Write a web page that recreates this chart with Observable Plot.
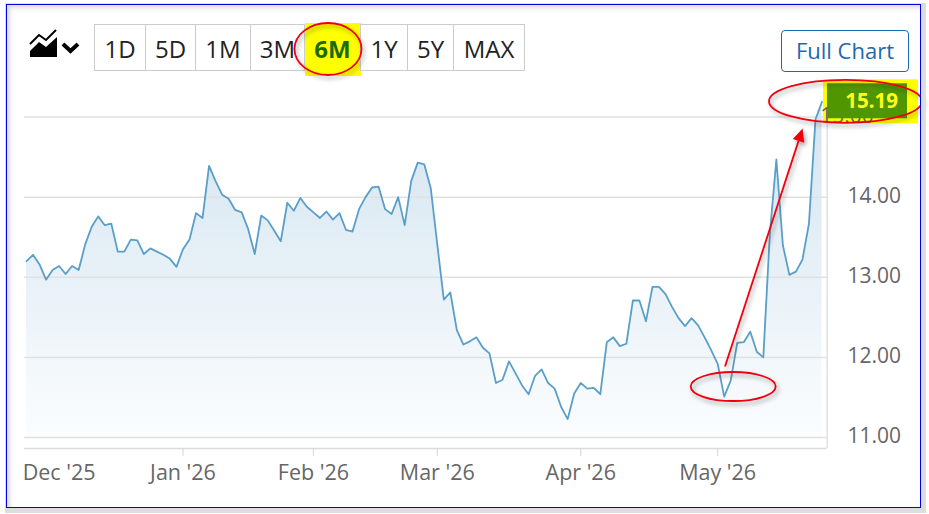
<!DOCTYPE html>
<html><head><meta charset="utf-8">
<script src="https://cdn.jsdelivr.net/npm/d3@7"></script>
<script src="https://cdn.jsdelivr.net/npm/@observablehq/plot@0.6"></script>
<style>
html,body{margin:0;padding:0;background:#fff;}
#wrap{position:relative;width:929px;height:514px;overflow:hidden;font-family:"Open Sans",sans-serif;}
#frame{position:absolute;left:6px;top:4px;width:913px;height:502px;border:1.5px solid #0000e6;box-shadow:inset 5px 5px 5px -2px #ddd,2px 2px 0 3px #ddd;pointer-events:none;}
#chart{position:absolute;left:0;top:0;}
.btn{position:absolute;top:24px;height:47px;line-height:47px;text-align:center;font-size:24px;color:#222;border:1px solid #ccc;box-sizing:border-box;margin-left:-1px;}
#full{position:absolute;left:781px;top:30px;width:128px;height:42px;line-height:39px;text-align:center;font-size:22px;color:#1a6aae;border:1.5px solid #1a6aae;border-radius:4px;box-sizing:border-box;}
#hl{position:absolute;left:305px;top:23px;width:56px;height:53px;background:#ffff00;}
#over{position:absolute;left:0;top:0;}
</style></head><body>
<div id="wrap">
<div id="chart"></div>
<div id="frame"></div>
<div id="btns"></div>
<div id="full">Full Chart</div>
<svg id="over" width="929" height="514">
<defs><filter id="sh" x="-20%" y="-20%" width="150%" height="150%"><feDropShadow dx="2" dy="3" stdDeviation="2" flood-color="#000" flood-opacity="0.35"/></filter></defs>
<g fill="#000"><path d="M30 51 L39 42 L46 47 L57 37 L57 57 L30 57 Z"/><path d="M30 44 L39 35 L46 40 L56 30" fill="none" stroke="#000" stroke-width="2"/>
<path d="M63 44 L70.500 51 L78 44" fill="none" stroke="#000" stroke-width="4"/></g>
<ellipse cx="328" cy="49" rx="33.500" ry="26" fill="none" stroke="#f00010" stroke-width="1.800" filter="url(#sh)"/>
</svg>
</div>
<script>
const prices = [13.20,13.28,13.16,12.97,13.09,13.14,13.04,13.14,13.09,13.41,13.63,13.76,13.65,13.67,13.32,13.32,13.47,13.46,13.29,13.36,13.32,13.28,13.23,13.13,13.35,13.47,13.80,13.74,14.39,14.20,14.03,13.98,13.84,13.81,13.60,13.29,13.77,13.71,13.58,13.45,13.93,13.83,13.99,13.88,13.81,13.74,13.82,13.72,13.80,13.59,13.57,13.85,14.00,14.12,14.13,13.85,13.79,14.00,13.65,14.20,14.43,14.41,14.11,13.41,12.72,12.81,12.34,12.16,12.20,12.25,12.12,12.05,11.68,11.72,11.95,11.80,11.65,11.54,11.77,11.85,11.68,11.61,11.38,11.23,11.55,11.68,11.61,11.62,11.54,12.19,12.25,12.14,12.17,12.71,12.71,12.45,12.88,12.88,12.79,12.63,12.49,12.39,12.49,12.40,12.25,12.09,11.92,11.51,11.71,12.18,12.19,12.32,12.07,12.00,13.54,14.47,13.40,13.03,13.07,13.22,13.67,14.97,15.19];
const tickIndex = [24,44,63,85,106];
const tickLabels = ["Jan '26","Feb '26","Mar '26","Apr '26","May '26"];
const firstLabelIndex = 5, firstLabel = "Dec '25";
const yTicks = [11,12,13,14,15];
const ranges = ["1D","5D","1M","3M","6M","1Y","5Y","MAX"];
const rangeEdges = [95,146,196,251,305,361,408,454,525];
const data = prices.map((v,i)=>({i,v}));
const last = data[data.length-1];
const base = 10.98, axisY = 10.863, axisX = 122.8;
const gridColor = "#e1e1e1", textColor = "#666", red = "#f00010";

const hl = document.createElement("div"); hl.id="hl"; document.getElementById("btns").append(hl);
ranges.forEach((r,k)=>{
  const b=document.createElement("div"); b.className="btn"; b.textContent=r;
  b.style.left=rangeEdges[k]+"px"; b.style.width=(rangeEdges[k+1]-rangeEdges[k]+1)+"px";
  if(r==="6M"){b.style.fontWeight="700";b.style.color="#1a6a00";b.style.borderColor="transparent";}
  document.getElementById("btns").append(b);
});

const gradient = () => {
  const s = d3.create("svg:defs");
  const g = s.append("linearGradient").attr("id","areaFill").attr("x1",0).attr("x2",0).attr("y1",0).attr("y2",1);
  g.append("stop").attr("offset","0%").attr("stop-color","#d3e4f0");
  g.append("stop").attr("offset","100%").attr("stop-color","#fbfdfe");
  const f = s.append("filter").attr("id","shade").attr("x","-20%").attr("y","-30%").attr("width","150%").attr("height","170%");
  f.append("feDropShadow").attr("dx",2).attr("dy",3).attr("stdDeviation",2).attr("flood-color","#000").attr("flood-opacity",.35);
  return s.node();
};
const valueTag = (index,{x,y}) => {
  const g = d3.create("svg:g");
  const cy = y(last.v);
  g.append("rect").attr("x",823).attr("y",cy-22).attr("width",95).attr("height",44).attr("fill","#ffff00");
  g.append("text").attr("x",847).attr("y",y(15)).attr("dy","0.32em").attr("fill",textColor).attr("font-size",21).text("15.00");
  g.append("rect").attr("x",827).attr("y",cy-18).attr("width",80).attr("height",35).attr("fill","#4f9600");
  g.append("text").attr("x",898).attr("y",cy).attr("dy","0.35em").attr("text-anchor","end").attr("fill","#ffff1a").attr("font-weight",700).attr("font-size",20.5).text(last.v.toFixed(2));
  return g.node();
};
const annotations = (index,{x,y}) => {
  const g = d3.create("svg:g");
  const ell=(cx,cy,rx,ry)=>g.append("ellipse").attr("cx",cx).attr("cy",cy).attr("rx",rx).attr("ry",ry).attr("fill","none").attr("stroke",red).attr("stroke-width",1.8).attr("filter","url(#shade)");
  ell(x(last.i)+24,y(last.v),76.5,21.5);
  ell(x(108)+3,y(11.63),42.5,14.5);
  const x1=x(107.2),y1=y(11.88),x2=x(119.1),y2=y(14.85);
  const a=Math.atan2(y2-y1,x2-x1),L=13,W=6;
  const bx=x2-L*Math.cos(a),by=y2-L*Math.sin(a);
  const ag=g.append("g").attr("filter","url(#shade)");
  ag.append("line").attr("x1",x1).attr("y1",y1).attr("x2",bx).attr("y2",by).attr("stroke",red).attr("stroke-width",1.8);
  ag.append("path").attr("fill",red).attr("d",`M${x2},${y2}L${bx-W*Math.sin(a)},${by+W*Math.cos(a)}L${bx+W*Math.sin(a)},${by-W*Math.cos(a)}Z`);
  return g.node();
};

const plot = Plot.plot({
  width:929, height:514,
  marginLeft:24, marginRight:102, marginTop:80, marginBottom:66,
  style:{fontFamily:'"Open Sans",sans-serif',background:"transparent"},
  x:{type:"linear",domain:[0,122],range:[26,821.5]},
  y:{type:"linear",domain:[11,15],range:[437,116.5]},
  marks:[
    gradient,
    Plot.areaY(data,{x:"i",y1:base,y2:"v",fill:"url(#areaFill)",curve:"linear"}),
    Plot.gridY(yTicks,{stroke:gridColor,strokeOpacity:1,strokeWidth:1.5,x1:-0.3,x2:axisX}),
    Plot.ruleY([axisY],{x1:-0.3,x2:axisX,stroke:"#dcdcdc",strokeWidth:1.5}),
    Plot.ruleX([axisX],{y1:axisY,y2:15.45,stroke:gridColor,strokeWidth:1.5}),
    Plot.lineY(data,{x:"i",y:"v",stroke:"#5a9fc8",strokeWidth:1.8,curve:"linear"}),
    Plot.axisX(tickIndex,{anchor:"bottom",tickSize:8,tickPadding:8,stroke:"#d5d5d5",fill:textColor,fontSize:21.5,tickFormat:(d)=>tickLabels[tickIndex.indexOf(d)],label:null}),
    Plot.axisX([firstLabelIndex],{anchor:"bottom",tickSize:8,strokeOpacity:0,tickPadding:8,fill:textColor,fontSize:21.5,tickFormat:()=>firstLabel,label:null}),
    Plot.axisY(yTicks.slice(0,4),{anchor:"right",tickSize:0,tickPadding:20,dy:-1,fill:textColor,fontSize:21,textAnchor:"start",tickFormat:".2f",label:null}),
    valueTag,
    annotations
  ]
});
document.getElementById("chart").append(plot);
</script>
</body></html>
